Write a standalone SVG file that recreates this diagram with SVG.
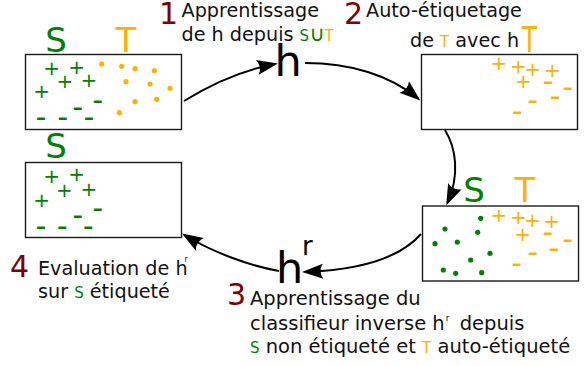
<svg xmlns="http://www.w3.org/2000/svg" width="586" height="366" viewBox="0 0 586 366">
<style>
text{font-family:"DejaVu Sans","Liberation Sans",sans-serif;}
.box{fill:#fff;stroke:#1a1a1a;stroke-width:1.4;}
.g{fill:#008000;}
.o{fill:#ffb000;}
.red{fill:#800000;font-size:30px;}
.body{font-size:19.2px;fill:#111;}
.b3{font-size:19.5px;fill:#111;}
.lab{font-size:34px;text-anchor:middle;}
.pm{font-size:20px;text-anchor:middle;}
.mn{font-weight:bold;}
.big{font-size:43px;fill:#000;}
.sm{font-size:15px;}
.conn{fill:none;stroke:#000;stroke-width:2;marker-end:url(#ah);}
</style>
<defs>
<marker id="ah" markerUnits="userSpaceOnUse" viewBox="-20 -9 24 18" refX="0" refY="0" markerWidth="24" markerHeight="18" orient="auto" overflow="visible">
<path d="M3,0 L-18,-7.5 Q-13,0 -18,7.5 Z" fill="#000"/>
</marker>
</defs>
<rect width="586" height="366" fill="#fff"/>

<g id="connectors">
<path class="conn" d="M184,101 Q230,72.5 275,64"/>
<path class="conn" d="M305,63 C350,63 390,75 418,98.5"/>
<path class="conn" d="M445,130 C456,148 460,175 447.5,202.5"/>
<path class="conn" d="M421,234 C400,258 360,270 305,272"/>
<path class="conn" d="M279,271 C250,266 212,252 184.5,235"/>
</g>

<g id="node-source-target">
<rect class="box" x="25.5" y="54.5" width="156" height="75"/>
<text class="lab g" x="56" y="52">S</text>
<text class="lab o" x="126" y="52">T</text>
<g class="g pm">
<text x="51.7" y="74.8">+</text><text x="76.7" y="74.2">+</text><text x="65" y="87.5">+</text><text x="89" y="86.5">+</text><text x="41.7" y="98.2">+</text>
</g>
<g class="g pm mn">
<text x="41" y="123.5">–</text><text x="62.7" y="124.1">–</text><text x="77.7" y="113.5">–</text><text x="97.7" y="106.5">–</text><text x="89" y="123.5">–</text>
</g>
<g class="o">
<circle cx="101.7" cy="64" r="2.6"/><circle cx="121.7" cy="66.3" r="2.6"/><circle cx="135" cy="68.7" r="2.6"/><circle cx="154.3" cy="70.7" r="2.6"/><circle cx="126" cy="81.7" r="2.6"/>
<circle cx="150" cy="84" r="2.6"/><circle cx="170" cy="88.3" r="2.6"/><circle cx="135" cy="101.7" r="2.6"/><circle cx="156.7" cy="99.3" r="2.6"/><circle cx="119.3" cy="112.7" r="2.6"/>
</g>
</g>

<g id="node-target-labeled">
<rect class="box" x="421.5" y="54.5" width="156" height="75"/>
<text class="o" font-size="36" text-anchor="middle" transform="translate(529.5,51.7) scale(0.7,1)">T</text>
<g class="o pm">
<text x="499" y="69.8">+</text><text x="518.3" y="73.2">+</text><text x="532.7" y="75.5">+</text><text x="552.3" y="77.2">+</text><text x="523.3" y="87.5">+</text>
</g>
<g class="o pm mn">
<text x="548" y="87.5">–</text><text x="567.7" y="94.1">–</text><text x="532.7" y="106.8">–</text><text x="555" y="103.1">–</text><text x="517.3" y="118.1">–</text>
</g>
</g>

<g id="node-source-unlabeled">
<rect class="box" x="422.5" y="206" width="156" height="75"/>
<text class="lab g" x="474" y="201.7">S</text>
<text class="lab o" x="525" y="201.7">T</text>
<g class="o pm">
<text x="499" y="221.5">+</text><text x="518.3" y="224.2">+</text><text x="532.3" y="226.5">+</text><text x="551.7" y="228.2">+</text><text x="522.7" y="240.5">+</text>
</g>
<g class="o pm mn">
<text x="547.7" y="239.1">–</text><text x="567.7" y="245.8">–</text><text x="532.7" y="259.1">–</text><text x="554" y="254.8">–</text><text x="516.7" y="270.1">–</text>
</g>
<g class="g">
<circle cx="480.7" cy="218.3" r="2.6"/><circle cx="445" cy="229" r="2.6"/><circle cx="477.7" cy="232.3" r="2.6"/><circle cx="435" cy="243.7" r="2.6"/><circle cx="457.3" cy="242" r="2.6"/>
<circle cx="490" cy="253.3" r="2.6"/><circle cx="470.7" cy="260" r="2.6"/><circle cx="443.3" cy="270" r="2.6"/><circle cx="455.7" cy="273.3" r="2.6"/><circle cx="481.7" cy="272.7" r="2.6"/>
</g>
</g>

<g id="node-source-eval">
<rect class="box" x="25.5" y="162.5" width="156" height="75"/>
<text class="lab g" x="56" y="158">S</text>
<g class="g pm">
<text x="51.7" y="183.2">+</text><text x="76.7" y="180.8">+</text><text x="64.3" y="196.5">+</text><text x="89" y="195.5">+</text><text x="41.7" y="207.2">+</text>
</g>
<g class="g pm mn">
<text x="41" y="232.5">–</text><text x="62.3" y="233.1">–</text><text x="77.7" y="221.8">–</text><text x="97.7" y="214.8">–</text><text x="88.3" y="232.5">–</text>
</g>
</g>

<g id="classifier-h">
<text class="big" x="274.5" y="76">h</text>
</g>
<g id="classifier-hr">
<text class="big" x="276" y="283" font-size="44">h</text>
<text x="302" y="255" font-size="26" fill="#000">r</text>
</g>

<g id="step1">
<text class="red" x="159" y="24">1</text>
<text class="body" x="181.5" y="17">Apprentissage</text>
<text class="body" x="181.5" y="40.5">de h depuis <tspan class="sm g">S</tspan><tspan class="g" font-size="21">∪</tspan><tspan class="sm o">T</tspan></text>
</g>
<g id="step2">
<text class="red" x="344" y="24">2</text>
<text class="body" x="366" y="17">Auto-étiquetage</text>
<text class="body" x="410" y="46.7">de <tspan class="sm o">T</tspan> avec h</text>
</g>
<g id="step3">
<text class="red" x="227" y="305">3</text>
<text class="b3" x="250" y="305">Apprentissage du</text>
<text class="b3" x="250" y="330">classifieur inverse h<tspan font-size="9" dx="1" dy="-9">r</tspan><tspan dx="4" dy="9"> depuis</tspan></text>
<text class="b3" x="250" y="353"><tspan class="sm g">S</tspan> non étiqueté et <tspan class="sm o">T</tspan> auto-étiqueté</text>
</g>
<g id="step4">
<text class="red" x="10" y="277">4</text>
<text class="body" x="38" y="275">Evaluation de h<tspan font-size="8" dx="-3" dy="-13">r</tspan></text>
<text class="body" x="38" y="298">sur <tspan class="sm g">S</tspan> étiqueté</text>
</g>
</svg>
